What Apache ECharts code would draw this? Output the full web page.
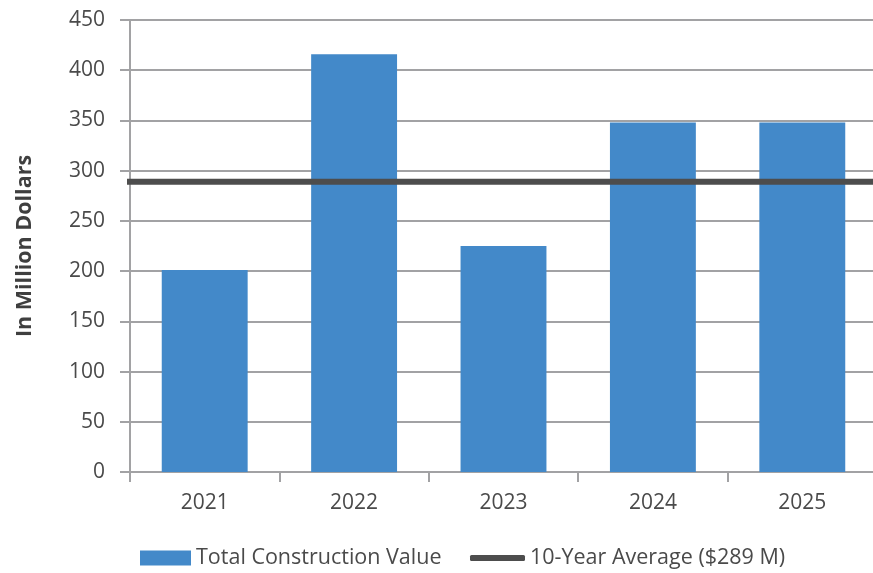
<!DOCTYPE html>
<html>
<head>
<meta charset="utf-8">
<script src="https://cdn.jsdelivr.net/npm/echarts@6/dist/echarts.min.js"></script>
<style>
  html, body { margin: 0; padding: 0; background: #ffffff; overflow: hidden; }
  /* the plot band runs a few pixels past the right edge of the window */
  #chart { width: 877px; height: 573px; }
</style>
</head>
<body>
<div id="chart"></div>
<script>
// Annual construction value, millions of dollars
const years = ['2021', '2022', '2023', '2024', '2025'];
const constructionValue = [201, 416, 225, 348, 348];
const tenYearAverage = 289;
const yTicks = { min: 0, max: 450, interval: 50 };

const barName = 'Total Construction Value';
const avgName = '10-Year Average ($' + tenYearAverage + ' M)';

const FONT = '"Open Sans", "Noto Sans", sans-serif';
const TEXT = '#4a4a4a';
const GRID = '#a2a2a4';

const chart = echarts.init(document.getElementById('chart'), null, { renderer: 'canvas' });

chart.setOption({
  backgroundColor: '#ffffff',
  animation: false,
  grid: { left: 130, right: 0, top: 20, bottom: 101, containLabel: false },
  legend: [
    {
      data: [barName],
      left: 140, top: 547, padding: 0,
      itemWidth: 51, itemHeight: 15, icon: 'rect',
      textStyle: { fontFamily: FONT, fontSize: 21.5, color: TEXT },
      selectedMode: false
    },
    {
      data: [{ name: avgName, icon: 'roundRect' }],
      left: 470, top: 547, padding: 0,
      itemWidth: 55, itemHeight: 6,
      textStyle: { fontFamily: FONT, fontSize: 21.5, color: TEXT },
      selectedMode: false
    }
  ],
  xAxis: [
    {
      type: 'category',
      data: years,
      boundaryGap: true,
      axisLine: { show: true, lineStyle: { color: GRID, width: 2 } },
      axisTick: { show: true, alignWithLabel: false, length: 10, lineStyle: { color: GRID, width: 2 } },
      axisLabel: { color: TEXT, fontFamily: FONT, fontSize: 21, margin: 21 },
      splitLine: { show: false }
    },
    {
      // hidden linear axis spanning the category band, used to draw the average line edge to edge
      type: 'value', min: 0, max: years.length, show: false
    }
  ],
  yAxis: {
    type: 'value',
    min: yTicks.min, max: yTicks.max, interval: yTicks.interval,
    name: 'In Million Dollars',
    nameLocation: 'middle',
    nameRotate: 90,
    nameGap: 94,
    nameTextStyle: { fontFamily: FONT, fontSize: 21.5, fontWeight: 'bold', color: '#3f3f3f' },
    axisLine: { show: true, lineStyle: { color: GRID, width: 2 } },
    axisTick: { show: true, length: 10, lineStyle: { color: GRID, width: 2 } },
    axisLabel: { color: TEXT, fontFamily: FONT, fontSize: 21, margin: 25 },
    splitLine: { show: true, lineStyle: { color: GRID, width: 2 } }
  },
  series: [
    {
      name: barName,
      type: 'bar',
      data: constructionValue,
      barWidth: '57.5%',
      itemStyle: { color: '#4389c9' },
      z: 2
    },
    {
      name: avgName,
      type: 'line',
      xAxisIndex: 1,
      data: [[-0.08, tenYearAverage], [years.length, tenYearAverage]],
      symbol: 'none',
      clip: false,
      lineStyle: { color: '#4d4d4d', width: 6, cap: 'round' },
      itemStyle: { color: '#4d4d4d' },
      z: 3
    }
  ]
});
</script>
</body>
</html>
